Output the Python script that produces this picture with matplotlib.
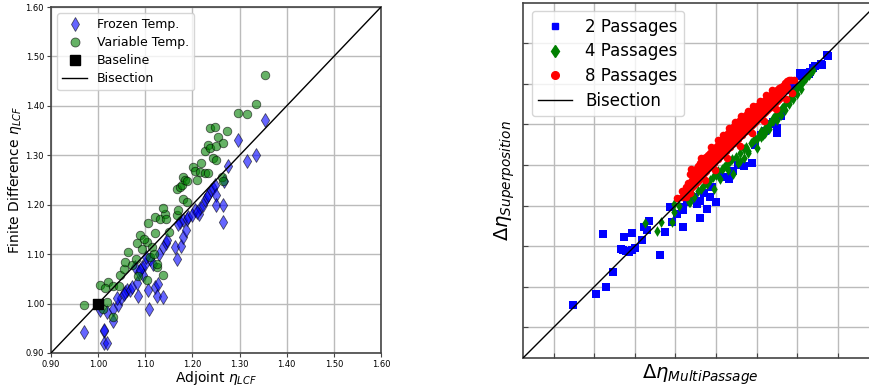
import matplotlib
matplotlib.use("Agg")
import matplotlib.pyplot as plt
from matplotlib.lines import Line2D

# ---------------- Left panel data ----------------
frozen_x = [0.970, 1.012, 1.013, 1.012, 1.019, 1.003, 1.018, 1.031, 1.032, 1.043, 1.048, 1.057,
            1.061, 1.068, 1.071, 1.084, 1.082, 1.087, 1.092, 1.096, 1.106, 1.108, 1.110, 1.117,
            1.121, 1.124, 1.126, 1.130, 1.138, 1.138, 1.144, 1.147, 1.164, 1.168, 1.176, 1.179,
            1.186, 1.174, 1.181, 1.188, 1.191, 1.205, 1.213, 1.216, 1.223, 1.227, 1.230, 1.234,
            1.239, 1.244, 1.248, 1.251, 1.250, 1.264, 1.264, 1.266, 1.275, 1.297, 1.315, 1.335,
            1.354, 1.078, 1.100, 1.102, 1.088, 1.055, 1.040, 1.200, 1.210, 1.170]
frozen_y = [0.943, 0.944, 0.947, 0.921, 0.921, 0.988, 0.983, 0.965, 0.990, 0.997, 1.011, 1.024,
            1.027, 1.028, 1.034, 1.015, 1.041, 1.064, 1.074, 1.057, 1.027, 0.990, 1.091, 1.081,
            1.034, 1.016, 1.039, 1.101, 1.014, 1.115, 1.122, 1.128, 1.114, 1.091, 1.116, 1.135,
            1.149, 1.166, 1.169, 1.172, 1.176, 1.189, 1.182, 1.193, 1.199, 1.209, 1.216, 1.220,
            1.230, 1.233, 1.240, 1.220, 1.199, 1.199, 1.166, 1.247, 1.279, 1.331, 1.289, 1.300,
            1.372, 1.074, 1.080, 1.095, 1.068, 1.020, 1.012, 1.180, 1.185, 1.160]

variable_x = [0.970, 1.003, 1.020, 1.015, 1.011, 1.018, 1.031, 1.032, 1.045, 1.046, 1.055, 1.057,
              1.063, 1.071, 1.080, 1.082, 1.085, 1.089, 1.092, 1.103, 1.106, 1.110, 1.114, 1.121,
              1.124, 1.121, 1.131, 1.142, 1.138, 1.145, 1.138, 1.167, 1.170, 1.167, 1.174, 1.177,
              1.179, 1.185, 1.188, 1.179, 1.189, 1.202, 1.205, 1.209, 1.216, 1.219, 1.227, 1.234,
              1.227, 1.232, 1.237, 1.237, 1.248, 1.244, 1.251, 1.250, 1.255, 1.263, 1.264, 1.265,
              1.273, 1.297, 1.315, 1.335, 1.354, 1.103, 1.124, 1.118, 1.098, 1.150]
variable_y = [0.997, 1.037, 1.044, 1.032, 0.990, 1.003, 0.973, 1.036, 1.035, 1.057, 1.069, 1.084,
              1.105, 1.078, 1.091, 1.122, 1.055, 1.139, 1.111, 1.125, 1.162, 1.095, 1.115, 1.142,
              1.074, 1.176, 1.172, 1.182, 1.193, 1.172, 1.057, 1.179, 1.189, 1.231, 1.236, 1.240,
              1.257, 1.250, 1.247, 1.211, 1.206, 1.277, 1.269, 1.250, 1.267, 1.284, 1.264, 1.264,
              1.309, 1.321, 1.314, 1.355, 1.358, 1.294, 1.291, 1.318, 1.338, 1.257, 1.247, 1.325,
              1.349, 1.386, 1.384, 1.403, 1.463, 1.047, 1.081, 1.100, 1.130, 1.145]

baseline_x = [1.0]
baseline_y = [1.0]

left_ticks = [0.90, 1.00, 1.10, 1.20, 1.30, 1.40, 1.50, 1.60]

# ---------------- Right panel data ----------------
p2_x = [1.48, 2.03, 2.28, 2.45, 2.22, 2.66, 2.74, 2.70, 2.78, 2.85, 2.94, 3.00, 2.92, 3.18,
        3.22, 3.36, 3.63, 3.75, 3.86, 3.92, 4.04, 4.16, 4.19, 4.38, 4.46, 4.60, 4.61, 4.78,
        4.86, 5.00, 4.52, 4.70, 5.31, 5.43, 5.68, 5.88, 5.20, 5.55, 6.50, 6.50, 6.74, 6.90,
        7.07, 7.07, 7.15, 7.23, 7.32, 7.40, 7.45, 7.60, 7.59, 7.77, 7.74, 6.30, 6.10, 5.95,
        6.60, 4.18, 4.28, 3.31, 4.90, 5.10, 6.20, 6.40, 7.00, 7.30]
p2_y = [1.54, 1.83, 1.99, 2.36, 3.30, 2.93, 3.22, 2.90, 2.88, 2.86, 3.32, 2.96, 2.90, 3.14,
        3.46, 3.61, 2.77, 3.34, 3.96, 3.59, 3.79, 3.96, 3.48, 4.53, 4.20, 3.70, 4.12, 3.91,
        4.20, 4.10, 4.05, 4.30, 4.65, 4.86, 4.98, 5.06, 4.70, 5.00, 5.80, 5.92, 6.84, 6.95,
        7.19, 7.26, 7.20, 7.27, 7.30, 7.40, 7.45, 7.46, 7.50, 7.68, 7.72, 6.00, 5.75, 5.50,
        6.20, 3.88, 4.10, 3.40, 4.45, 4.75, 5.85, 6.05, 6.92, 7.25]

p4_x = [3.24, 3.55, 3.65, 3.96, 3.97, 3.91, 4.10, 4.26, 4.33, 4.35, 4.41, 4.30, 4.45, 4.55,
        4.62, 4.69, 4.78, 4.70, 4.85, 4.94, 4.92, 5.00, 5.05, 5.10, 5.15, 5.20, 5.25, 5.30,
        5.35, 5.43, 5.40, 5.50, 5.55, 5.60, 5.68, 5.70, 5.75, 5.80, 5.85, 5.92, 5.95, 6.00,
        6.05, 6.10, 6.17, 6.20, 6.25, 6.30, 6.35, 6.41, 6.45, 6.50, 6.55, 6.58, 6.62, 6.68,
        6.74, 6.78, 6.82, 6.90, 6.95, 7.00, 7.07, 7.12, 7.18, 7.23, 7.30, 7.35, 7.40, 6.00,
        6.10, 6.20, 6.30, 6.40, 6.50, 6.60, 6.70, 6.80, 6.90, 7.00, 7.10, 5.60, 5.80, 5.30]
p4_y = [3.56, 3.38, 3.59, 4.04, 3.83, 3.60, 4.00, 4.44, 4.09, 4.08, 4.28, 4.15, 4.20, 4.35,
        4.40, 5.06, 4.53, 4.50, 4.62, 4.41, 4.70, 4.75, 4.85, 4.65, 4.90, 4.95, 5.00, 4.88,
        5.10, 4.77, 5.15, 5.20, 5.05, 5.30, 5.18, 5.40, 5.45, 5.35, 5.55, 5.59, 5.65, 5.43,
        5.75, 5.70, 5.75, 5.90, 5.95, 6.00, 6.05, 6.09, 6.20, 6.25, 6.30, 6.33, 6.40, 6.45,
        6.58, 6.55, 6.65, 6.78, 6.80, 6.90, 6.99, 7.02, 7.10, 7.15, 7.22, 7.28, 7.35, 5.65,
        5.85, 5.80, 5.88, 6.15, 6.10, 6.22, 6.35, 6.50, 6.62, 6.75, 6.88, 5.10, 5.30, 5.05]

p8_x = [4.15, 4.15, 4.20, 4.25, 4.25, 4.30, 4.30, 4.35, 4.35, 4.35, 4.40, 4.40, 4.40, 4.45,
        4.45, 4.50, 4.50, 4.50, 4.55, 4.55, 4.55, 4.60, 4.60, 4.60, 4.65, 4.65, 4.65, 4.70,
        4.70, 4.70, 4.75, 4.75, 4.75, 4.80, 4.80, 4.80, 4.85, 4.85, 4.85, 4.90, 4.90, 4.90,
        4.95, 4.95, 4.95, 5.00, 5.00, 5.00, 5.05, 5.05, 5.05, 5.10, 5.10, 5.10, 5.15, 5.15,
        5.15, 5.20, 5.20, 5.20, 5.25, 5.25, 5.25, 5.30, 5.30, 5.30, 5.35, 5.35, 5.35, 5.40,
        5.40, 5.40, 5.45, 5.45, 5.45, 5.50, 5.50, 5.50, 5.55, 5.55, 5.55, 5.60, 5.60, 5.60,
        5.65, 5.65, 5.65, 5.70, 5.70, 5.70, 5.75, 5.75, 5.75, 5.80, 5.80, 5.80, 5.85, 5.85,
        5.85, 5.90, 5.90, 5.90, 5.95, 5.95, 5.95, 6.00, 6.00, 6.00, 6.05, 6.05, 6.05, 6.10,
        6.10, 6.10, 6.15, 6.15, 6.15, 6.20, 6.20, 6.20, 6.25, 6.25, 6.25, 6.30, 6.30, 6.30,
        6.35, 6.35, 6.35, 6.40, 6.40, 6.40, 6.45, 6.45, 6.45, 6.50, 6.50, 6.50, 6.55, 6.55,
        6.55, 6.60, 6.60, 6.65, 6.65, 6.70, 6.70, 6.75, 6.75, 6.80, 6.85, 6.92,
        4.05, 4.38, 4.62, 4.88, 5.05, 5.18, 5.33, 5.48, 5.62, 5.78, 5.92, 6.08, 6.22, 6.38,
        4.72, 4.98, 5.28, 5.58, 5.88, 6.18, 6.48, 6.72, 6.88]
p8_y = [4.22, 4.35, 4.30, 4.45, 4.20, 4.55, 4.38, 4.78, 4.48, 4.32, 4.82, 4.62, 4.45, 4.70,
        4.50, 4.90, 4.72, 4.55, 4.98, 4.80, 4.60, 5.05, 4.85, 4.68, 5.12, 4.95, 4.72, 5.18,
        5.00, 4.80, 5.20, 5.05, 4.85, 5.25, 5.10, 4.92, 5.30, 5.15, 4.95, 5.35, 5.20, 5.02,
        5.40, 5.25, 5.05, 5.45, 5.30, 5.12, 5.50, 5.35, 5.15, 5.58, 5.40, 5.22, 5.62, 5.45,
        5.25, 5.68, 5.50, 5.32, 5.72, 5.55, 5.35, 5.78, 5.60, 5.42, 5.85, 5.65, 5.45, 5.90,
        5.70, 5.52, 5.95, 5.75, 5.55, 6.00, 5.80, 5.62, 6.05, 5.85, 5.65, 6.10, 5.90, 5.72,
        6.12, 5.95, 5.75, 6.18, 6.00, 5.82, 6.22, 6.05, 5.85, 6.28, 6.10, 5.92, 6.30, 6.15,
        5.95, 6.35, 6.20, 6.02, 6.40, 6.25, 6.05, 6.45, 6.30, 6.10, 6.48, 6.32, 6.15, 6.52,
        6.38, 6.20, 6.55, 6.42, 6.25, 6.60, 6.45, 6.30, 6.65, 6.50, 6.35, 6.70, 6.55, 6.40,
        6.72, 6.58, 6.42, 6.78, 6.62, 6.48, 6.82, 6.68, 6.52, 6.85, 6.70, 6.58, 6.90, 6.75,
        6.62, 6.92, 6.78, 6.95, 6.82, 7.02, 6.88, 7.08, 6.92, 7.10, 7.10, 7.10,
        4.18, 4.90, 5.18, 5.45, 5.62, 5.75, 5.90, 6.05, 6.20, 6.32, 6.45, 6.58, 6.72, 6.85,
        4.62, 4.88, 5.18, 5.48, 5.78, 6.08, 6.38, 6.62, 6.78]

right_ticks = [1, 2, 3, 4, 5, 6, 7, 8]
right_lim = (0.25, 9.0)

# ---------------- Figure ----------------
W, H = 870, 390
fig = plt.figure(figsize=(W / 100, H / 100), dpi=100)

grid_kw = dict(color="#bbbbbb", linewidth=1.0)
spine_color = "#444444"

# Left axes
axL = fig.add_axes([51 / W, (H - 353) / H, 330 / W, 346 / H])
axL.scatter(frozen_x, frozen_y, marker="d", s=50, color="blue", alpha=0.6,
            edgecolors="black", linewidths=0.6, zorder=3)
axL.scatter(variable_x, variable_y, marker="o", s=38, color="green", alpha=0.6,
            edgecolors="black", linewidths=0.6, zorder=3)
axL.scatter(baseline_x, baseline_y, marker="s", s=50, color="black", zorder=4)
axL.plot([0.9, 1.6], [0.9, 1.6], color="black", lw=1.0, zorder=3)
axL.set_xlim(0.9, 1.6)
axL.set_ylim(0.9, 1.6)
axL.set_xticks(left_ticks)
axL.set_yticks(left_ticks)
axL.set_xticklabels([f"{t:.2f}" for t in left_ticks])
axL.set_yticklabels([f"{t:.2f}" for t in left_ticks])
axL.tick_params(labelsize=6, length=3, width=0.8, color=spine_color, pad=2)
axL.grid(True, **grid_kw)
axL.set_axisbelow(True)
for sp in axL.spines.values():
    sp.set_color(spine_color)
    sp.set_linewidth(1.2)
axL.set_xlabel(r"Adjoint $\eta_{LCF}$", fontsize=10, labelpad=0)
axL.set_ylabel(r"Finite Difference $\eta_{LCF}$", fontsize=10, labelpad=1)
hL = [
    Line2D([], [], marker="d", ls="none", color="blue", alpha=0.6, markersize=7,
           markeredgecolor="black", markeredgewidth=0.6),
    Line2D([], [], marker="o", ls="none", color="green", alpha=0.6, markersize=6.5,
           markeredgecolor="black", markeredgewidth=0.6),
    Line2D([], [], marker="s", ls="none", color="black", markersize=7),
    Line2D([], [], color="black", lw=1.0),
]
axL.legend(hL, ["Frozen Temp.", "Variable Temp.", "Baseline", "Bisection"],
           loc="upper left", fontsize=9, framealpha=0.8, borderaxespad=0.5,
           labelspacing=0.4)

# Right axes
axR = fig.add_axes([523.3 / W, (H - 357.7) / H, 355 / W, 355 / H])
axR.scatter(p2_x, p2_y, marker="s", s=26, color="blue", zorder=3, linewidths=0)
axR.scatter(p4_x, p4_y, marker="d", s=30, color="green", zorder=3, linewidths=0)
axR.scatter(p8_x, p8_y, marker="o", s=30, color="red", zorder=3, linewidths=0)
axR.plot(right_lim, right_lim, color="black", lw=1.0, zorder=4)
axR.set_xlim(*right_lim)
axR.set_ylim(*right_lim)
axR.set_xticks(right_ticks)
axR.set_yticks(right_ticks)
axR.set_xticklabels([])
axR.set_yticklabels([])
axR.tick_params(direction="in", length=3.5, width=0.8, color=spine_color)
axR.grid(True, **grid_kw)
axR.set_axisbelow(True)
for sp in axR.spines.values():
    sp.set_color(spine_color)
    sp.set_linewidth(1.2)
axR.set_xlabel(r"$\Delta\eta_{MultiPassage}$", fontsize=14, labelpad=0)
axR.set_ylabel(r"$\Delta\eta_{Superposition}$", fontsize=14, labelpad=1)
hR = [
    Line2D([], [], marker="s", ls="none", color="blue", markersize=5),
    Line2D([], [], marker="d", ls="none", color="green", markersize=6),
    Line2D([], [], marker="o", ls="none", color="red", markersize=5.5),
    Line2D([], [], color="black", lw=1.0),
]
axR.legend(hR, ["2 Passages", "4 Passages", "8 Passages", "Bisection"],
           loc="upper left", fontsize=12, framealpha=0.8, borderaxespad=0.5,
           labelspacing=0.4)

fig.savefig("out.png", dpi=100)
